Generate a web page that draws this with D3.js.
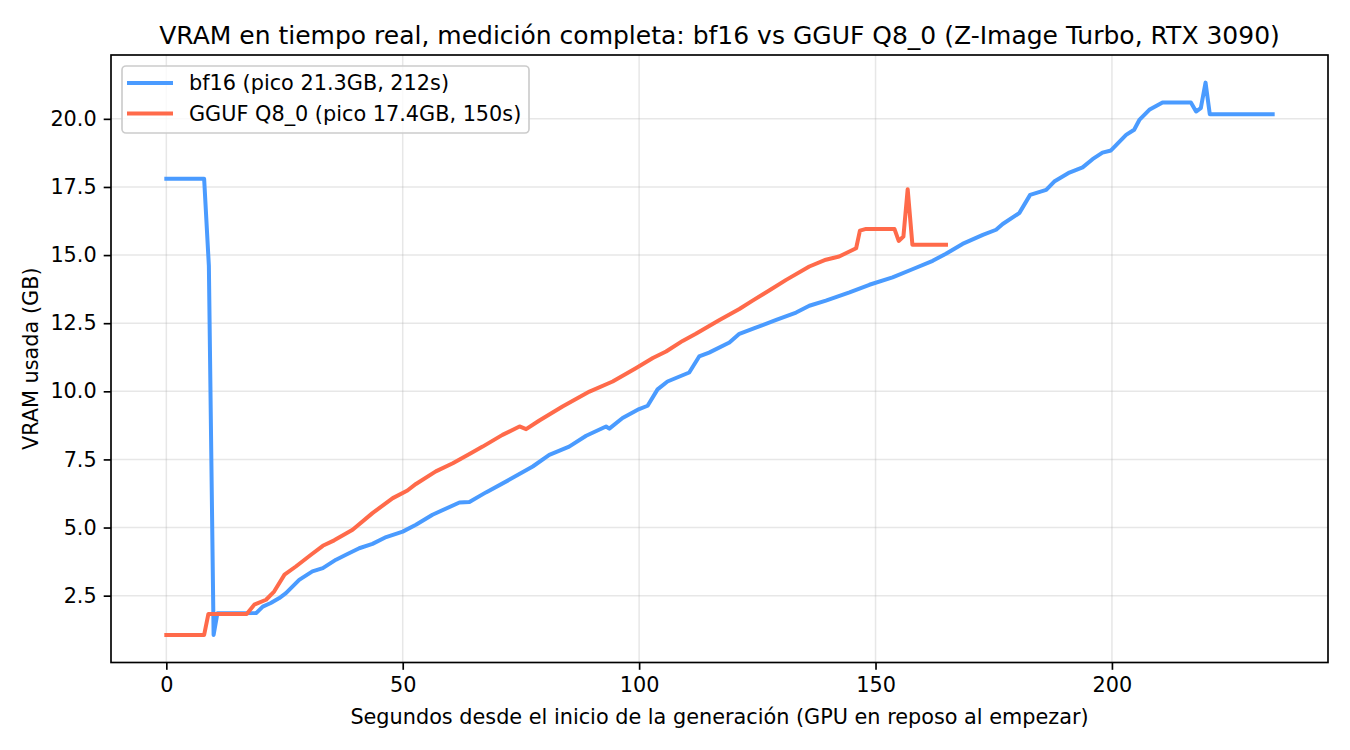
<!DOCTYPE html>
<html><head><meta charset="utf-8">
<script src="https://cdn.jsdelivr.net/npm/d3@7"></script>
<style>
body{margin:0;background:#fff;}
svg{display:block;font-family:"DejaVu Sans",sans-serif;}
</style></head>
<body><svg id="c" width="1350" height="750"></svg>
<script>
const bf16T = [0,8.0,9.0,10.0,10.8,19.0,20.4,22.1,23.9,25.3,28.1,30.9,33.1,35.9,38.0,40.8,43.6,46.5,50.0,52.8,56.3,62.0,64.1,67.6,72.5,77.5,81.0,85.2,88.8,93.0,93.7,96.5,100.0,101.8,103.9,106.0,110.6,112.7,114.8,119.1,121.2,124.4,129.0,133.2,136.0,139.5,144.5,148.7,153.6,157.8,162.1,164.9,168.4,172.7,175.5,176.9,180.4,182.7,186.1,187.8,191.0,193.8,195.9,198.0,199.8,203.0,204.7,205.8,207.9,210.7,216.7,217.8,218.8,219.8,220.7,234.0];
const bf16V = [17.8,17.8,14.6,1.06,1.85,1.86,2.10,2.23,2.41,2.59,3.08,3.39,3.51,3.82,4.00,4.24,4.40,4.65,4.85,5.10,5.47,5.92,5.94,6.29,6.75,7.24,7.67,7.97,8.37,8.71,8.63,9.02,9.35,9.47,10.07,10.36,10.69,11.28,11.42,11.79,12.11,12.32,12.62,12.89,13.14,13.33,13.63,13.91,14.18,14.48,14.79,15.05,15.41,15.74,15.93,16.14,16.54,17.21,17.39,17.70,18.03,18.22,18.52,18.76,18.84,19.41,19.60,19.96,20.33,20.60,20.60,20.27,20.39,21.33,20.17,20.17];
const ggufT = [0,8.0,8.9,17.0,18.6,21.1,22.8,25.0,27.4,30.6,33.1,35.5,39.4,43.6,47.9,51.0,52.8,57.0,60.6,64.4,66.9,71.1,74.7,76.1,78.9,83.8,89.5,94.4,99.3,102.9,105.7,109.2,112.0,117.0,121.2,124.0,127.5,131.1,136.0,139.5,142.3,145.9,146.7,148.0,154.0,154.9,155.9,156.8,157.8,164.9];
const ggufV = [1.06,1.06,1.83,1.83,2.17,2.35,2.65,3.27,3.57,4.00,4.33,4.53,4.92,5.53,6.08,6.36,6.60,7.06,7.36,7.73,7.97,8.40,8.71,8.61,8.93,9.44,9.99,10.36,10.85,11.22,11.46,11.85,12.11,12.62,13.02,13.33,13.70,14.09,14.58,14.83,14.95,15.25,15.90,15.96,15.96,15.52,15.68,17.42,15.38,15.38];
const seriesNames = ["bf16 (pico 21.3GB, 212s)","GGUF Q8_0 (pico 17.4GB, 150s)"];
const seriesColors = ["#4a9bff","#ff6a4a"];
const xTicks = [0,50,100,150,200];
const yTicks = [2.5,5.0,7.5,10.0,12.5,15.0,17.5,20.0];
const titleText = "VRAM en tiempo real, medición completa: bf16 vs GGUF Q8_0 (Z-Image Turbo, RTX 3090)";
const xLabel = "Segundos desde el inicio de la generación (GPU en reposo al empezar)";
const yLabel = "VRAM usada (GB)";

const L=111,R=1328,T=55,B=662.5;
const svg=d3.select("#c");
const series=[bf16T.map((t,i)=>[t,bf16V[i]]), ggufT.map((t,i)=>[t,ggufV[i]])];
const allT=bf16T.concat(ggufT), allV=bf16V.concat(ggufV);
const tmin=d3.min(allT),tmax=d3.max(allT),vmin=d3.min(allV),vmax=d3.max(allV);
const pt=(tmax-tmin)*0.05,pv=(vmax-vmin)*0.05;
const x=d3.scaleLinear().domain([tmin-pt,tmax+pt]).range([L,R]);
const y=d3.scaleLinear().domain([vmin-pv,vmax+pv]).range([B,T]);

// grid
const g=svg.append("g");
g.selectAll(".gx").data(xTicks).enter().append("line")
 .attr("x1",d=>x(d)).attr("x2",d=>x(d)).attr("y1",T).attr("y2",B)
 .attr("stroke","#b0b0b0").attr("stroke-opacity",0.3).attr("stroke-width",1.5);
g.selectAll(".gy").data(yTicks).enter().append("line")
 .attr("y1",d=>y(d)).attr("y2",d=>y(d)).attr("x1",L).attr("x2",R)
 .attr("stroke","#b0b0b0").attr("stroke-opacity",0.3).attr("stroke-width",1.5);

// lines
const line=d3.line().x(d=>x(d[0])).y(d=>y(d[1]));
series.forEach((s,i)=>{
  svg.append("path").datum(s).attr("d",line).attr("fill","none")
   .attr("stroke",seriesColors[i]).attr("stroke-width",4)
   .attr("stroke-linejoin","round").attr("stroke-linecap","square");
});

// axes
const xa=svg.append("g").attr("transform",`translate(0,${B})`)
 .call(d3.axisBottom(x).tickValues(xTicks).tickFormat(d3.format("d")).tickSize(7.3).tickPadding(7));
const ya=svg.append("g").attr("transform",`translate(${L},0)`)
 .call(d3.axisLeft(y).tickValues(yTicks).tickFormat(d3.format(".1f")).tickSize(7.3).tickPadding(7));
[xa,ya].forEach(a=>{
  a.select(".domain").remove();
  a.selectAll(".tick line").attr("stroke","#000").attr("stroke-width",1.67);
  a.selectAll(".tick text").attr("font-size","20.8px").attr("fill","#000").attr("font-family","DejaVu Sans");
});
svg.append("rect").attr("x",L).attr("y",T).attr("width",R-L).attr("height",B-T)
 .attr("fill","none").attr("stroke","#000").attr("stroke-width",1.67);

// title and labels
svg.append("text").attr("x",(L+R)/2).attr("y",44).attr("text-anchor","middle")
 .attr("font-size","25px").text(titleText);
svg.append("text").attr("x",(L+R)/2).attr("y",724).attr("text-anchor","middle")
 .attr("font-size","20.8px").text(xLabel);
svg.append("text").attr("transform",`translate(38,${(T+B)/2}) rotate(-90)`).attr("text-anchor","middle")
 .attr("font-size","20.8px").text(yLabel);

// legend
const lg=svg.append("g");
lg.append("rect").attr("x",122).attr("y",66).attr("width",407).attr("height",67).attr("rx",4)
 .attr("fill","#fff").attr("fill-opacity",0.8).attr("stroke","#cccccc").attr("stroke-width",1.67);
seriesNames.forEach((n,i)=>{
  const yy=83+i*30.5;
  lg.append("line").attr("x1",129).attr("x2",171).attr("y1",yy).attr("y2",yy)
   .attr("stroke",seriesColors[i]).attr("stroke-width",4).attr("stroke-linecap","square");
  lg.append("text").attr("x",189).attr("y",yy+7).attr("font-size","20.8px").text(n);
});
</script></body></html>
